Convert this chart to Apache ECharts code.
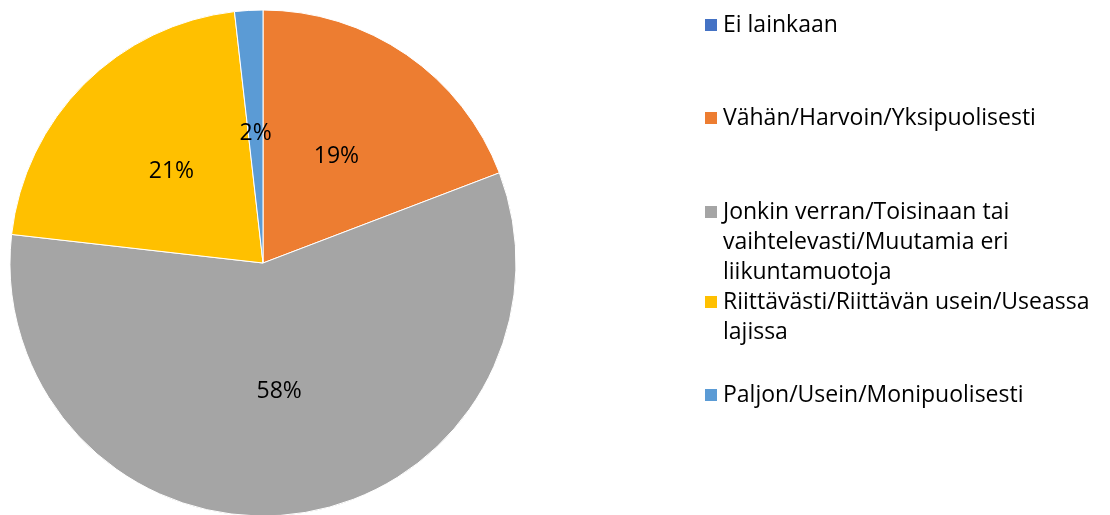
<!DOCTYPE html>
<html style="height: 100%">
<head>
<meta charset="utf-8">
<script type="text/javascript" src="https://cdn.jsdelivr.net/npm/echarts@6/dist/echarts.min.js"></script>
</head>
<body style="height: 100%; margin: 0; background: #fff">
	<div id="container" style="width: 1110px; height: 515px"></div>
	<script type="text/javascript">
		// vastausvaihtoehdot ja osuudet (%) kuvasta luettuna
		var categories = [ 'Ei lainkaan', 'Vähän/Harvoin/Yksipuolisesti',
				'Jonkin verran/Toisinaan tai vaihtelevasti/Muutamia eri liikuntamuotoja',
				'Riittävästi/Riittävän usein/Useassa lajissa',
				'Paljon/Usein/Monipuolisesti' ];
		var values = [ 0, 19.2, 57.6, 21.4, 1.8 ];
		var colors = [ '#4472C4', '#ED7D31', '#A5A5A5', '#FFC000', '#5B9BD5' ];
		// selitteen rivitys
		var legendLines = [
			[ 'Ei lainkaan' ],
			[ 'Vähän/Harvoin/Yksipuolisesti' ],
			[ 'Jonkin verran/Toisinaan tai', 'vaihtelevasti/Muutamia eri', 'liikuntamuotoja' ],
			[ 'Riittävästi/Riittävän usein/Useassa', 'lajissa' ],
			[ 'Paljon/Usein/Monipuolisesti' ]
		];
		var legendY = [ 25, 118, 212, 302, 395 ];

		var font = 'Open Sans';
		var lineH = 30;

		var data = [];
		for (var i = 0; i < categories.length; i++) {
			data.push({ name : categories[i], value : values[i],
				itemStyle : { color : colors[i] } });
		}

		var legends = [];
		for (var i = 0; i < categories.length; i++) {
			var n = legendLines[i].length;
			// tyhjät rivit alkuun, jotta ikoni osuu ensimmäiselle riville
			var pad = [];
			for (var k = 1; k < n; k++) pad.push(' ');
			var txt = pad.concat(legendLines[i]).join('\n');
			legends.push({
				data : [ categories[i] ],
				left : 703,
				top : legendY[i] - (2 * n - 1) * lineH / 2,
				padding : 0,
				itemWidth : 14,
				itemHeight : 14,
				itemGap : 0,
				icon : 'rect',
				selectedMode : false,
				formatter : (function(t) {
					return function() { return t; };
				})(txt),
				textStyle : {
					fontFamily : font,
					fontSize : 23,
					color : '#000',
					lineHeight : lineH
				}
			});
		}

		var myChart = echarts.init(document.getElementById('container'));
		var option = {
			animation : false,
			legend : legends,
			series : [ {
				type : 'pie',
				center : [ 263, 263 ],
				radius : 253,
				startAngle : 90,
				clockwise : true,
				data : data,
				itemStyle : { borderColor : '#fff', borderWidth : 1 },
				label : {
					position : 'inner',
					fontFamily : font,
					fontSize : 23,
					color : '#000',
					formatter : function(p) {
						return p.value ? Math.round(p.value) + '%' : '';
					}
				},
				labelLine : { show : false },
				emphasis : { disabled : true }
			} ]
		};
		myChart.setOption(option);
	</script>
</body>
</html>
